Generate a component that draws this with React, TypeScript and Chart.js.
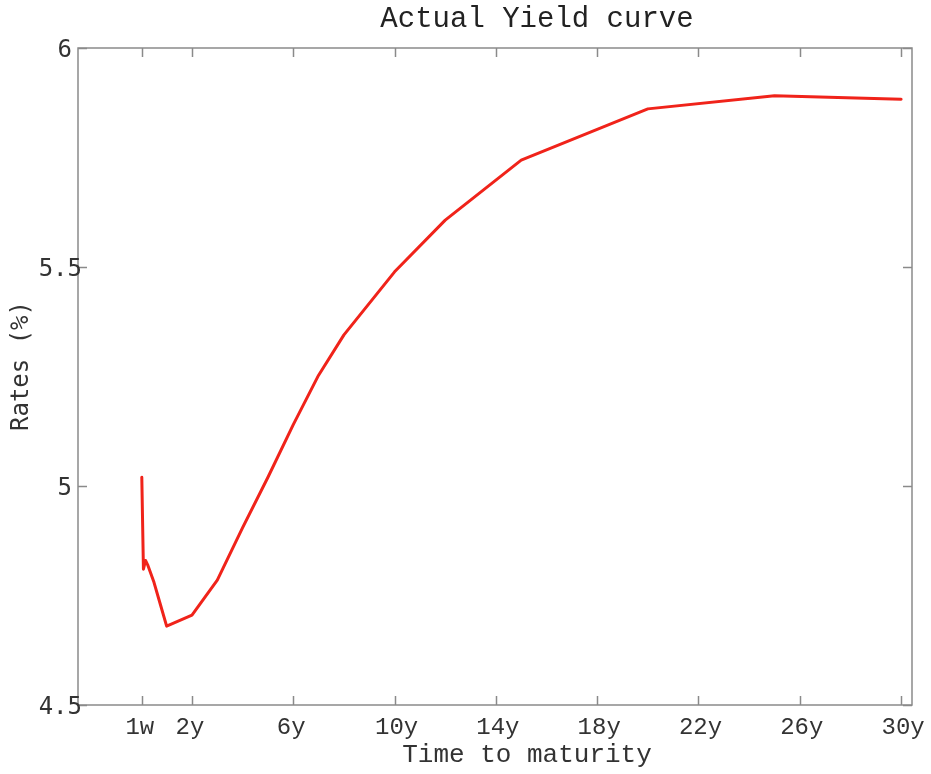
import React, { useEffect, useRef } from 'react';
import { Chart, registerables } from 'chart.js';

Chart.register(...registerables);

// Maturities in years (1w, 1m, 2m, 3m, 6m, 9m, 1y, 2y ... 30y)
const maturities = [0.0192, 0.0833, 0.1667, 0.25, 0.5, 0.75, 1, 2, 3, 4, 5, 6, 7, 8, 10, 12, 15, 20, 25, 30];
// Rates in %
const rates = [5.02, 4.81, 4.83, 4.82, 4.78, 4.73, 4.68, 4.705, 4.785, 4.905, 5.02, 5.14, 5.253, 5.345, 5.489, 5.607, 5.744, 5.861, 5.891, 5.883];

const xTickValues = [0.0192, 2, 6, 10, 14, 18, 22, 26, 30];
const xTickLabels = ['1w', '2y', '6y', '10y', '14y', '18y', '22y', '26y', '30y'];
const yTickValues = [4.5, 5, 5.5, 6];
const yTickLabels = ['4.5', '5', '5.5', '6'];

const titleText = 'Actual Yield curve';
const xTitleText = 'Time to maturity';
const yTitleText = 'Rates (%)';

const framePlugin = {
  id: 'matlabFrame',
  beforeDatasetsDraw(chart: any) {
    const { ctx, chartArea, scales } = chart;
    const { left, top, right, bottom } = chartArea;
    const xs = scales.x;
    const ys = scales.y;
    ctx.save();
    ctx.strokeStyle = '#8a8a8a';
    ctx.lineWidth = 1.5;
    ctx.strokeRect(left, top, right - left, bottom - top);
    const tl = 9;
    ctx.beginPath();
    xTickValues.forEach((v) => {
      const px = Math.round(xs.getPixelForValue(v)) + 0.5;
      ctx.moveTo(px, bottom);
      ctx.lineTo(px, bottom - tl);
      ctx.moveTo(px, top);
      ctx.lineTo(px, top + tl);
    });
    yTickValues.forEach((v) => {
      const py = Math.round(ys.getPixelForValue(v)) + 0.5;
      ctx.moveTo(left, py);
      ctx.lineTo(left + tl, py);
      ctx.moveTo(right, py);
      ctx.lineTo(right - tl, py);
    });
    ctx.stroke();
    ctx.restore();
  },
  afterDraw(chart: any) {
    const { ctx, chartArea, scales } = chart;
    const { left, bottom } = chartArea;
    const xs = scales.x;
    const ys = scales.y;
    ctx.save();
    ctx.fillStyle = '#333333';
    // x tick labels
    ctx.font = '24px "Liberation Mono", monospace';
    ctx.textAlign = 'center';
    ctx.textBaseline = 'middle';
    xTickValues.forEach((v, i) => {
      const px = xs.getPixelForValue(v);
      ctx.fillText(xTickLabels[i], px + (xTickLabels[i].length > 2 ? 2 : -2), bottom + 23);
    });
    // y tick labels
    ctx.font = '24px "DejaVu Sans Mono", monospace';
    ctx.textAlign = 'right';
    yTickValues.forEach((v, i) => {
      const py = ys.getPixelForValue(v);
      const lab = yTickLabels[i];
      ctx.fillText(lab, left - 6 + (lab.length > 1 ? 10 : 0), py + 3);
    });
    // title
    ctx.fillStyle = '#222222';
    ctx.font = '29px "Liberation Mono", monospace';
    ctx.textAlign = 'center';
    ctx.fillText(titleText, 537, 19);
    // x title
    ctx.fillStyle = '#333333';
    ctx.font = '26px "Liberation Mono", monospace';
    ctx.fillText(xTitleText, 527, 755);
    // y title
    ctx.font = '24px "DejaVu Sans Mono", monospace';
    ctx.translate(22, 366);
    ctx.rotate(-Math.PI / 2);
    ctx.fillText(yTitleText, 0, 0);
    ctx.restore();
  },
};

export default function App() {
  const canvasRef = useRef<HTMLCanvasElement | null>(null);

  useEffect(() => {
    if (!canvasRef.current) return;
    const points = maturities.map((m, i) => ({ x: m, y: rates[i] }));
    const chart = new Chart(canvasRef.current, {
      type: 'scatter',
      data: {
        datasets: [
          {
            data: points,
            showLine: true,
            borderColor: '#f0231a',
            backgroundColor: '#f0231a',
            borderWidth: 3,
            borderJoinStyle: 'round',
            borderCapStyle: 'round',
            pointRadius: 0,
            tension: 0,
          },
        ],
      },
      options: {
        responsive: false,
        animation: false,
        devicePixelRatio: 1,
        layout: { padding: { left: 78, top: 48, right: 19, bottom: 69 } },
        plugins: { legend: { display: false }, tooltip: { enabled: false }, title: { display: false } },
        scales: {
          x: { type: 'linear', min: -2.5, max: 30.43, display: false },
          y: { type: 'linear', min: 4.5, max: 6, display: false },
        },
      },
      plugins: [framePlugin],
    });
    return () => chart.destroy();
  }, []);

  return (
    <div style={{ position: 'absolute', left: 0, top: 0, width: 931, height: 774, background: '#fff' }}>
      <canvas ref={canvasRef} width={931} height={774} style={{ display: 'block' }} />
    </div>
  );
}
